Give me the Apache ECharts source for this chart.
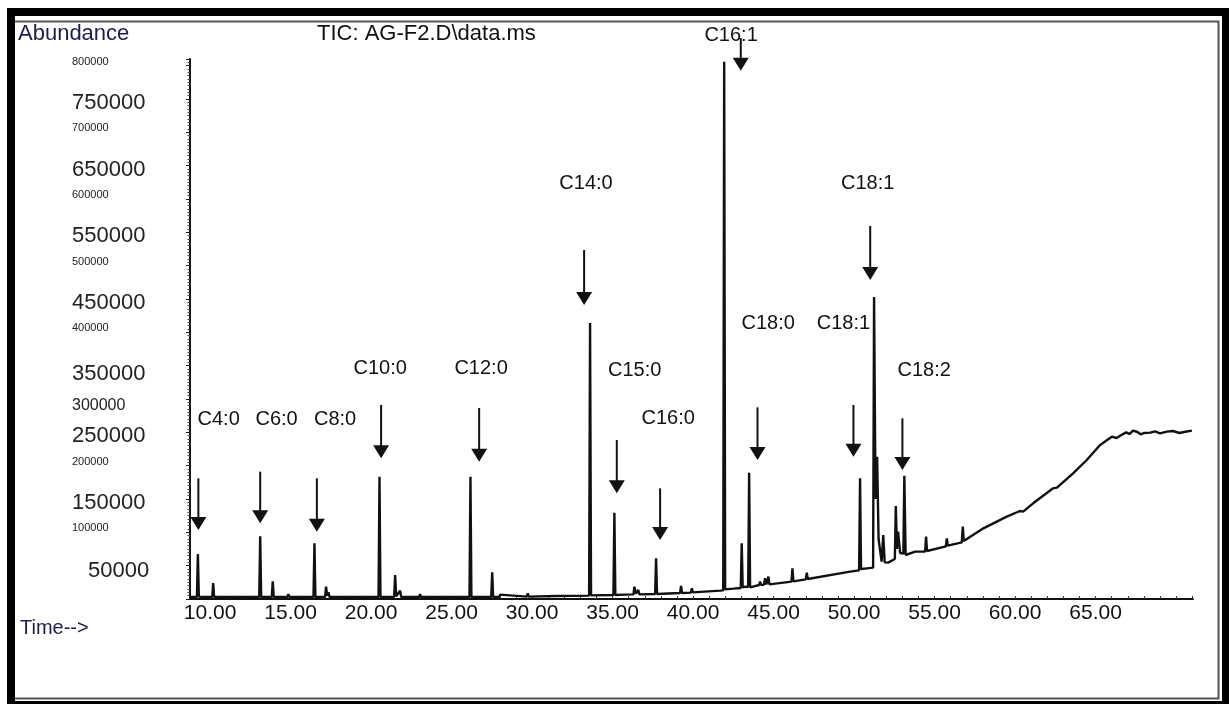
<!DOCTYPE html>
<html>
<head>
<meta charset="utf-8">
<script src="https://cdn.jsdelivr.net/npm/echarts@6/dist/echarts.min.js"></script>
<style>
  html, body { margin: 0; background: #fff; }
  #chart { width: 1229px; height: 704px; }
</style>
</head>
<body>
<div id="chart"></div>
<script>
// TIC trace, [time (min), abundance]
const traceEarly = [
  [8.80, 3000],
  [9.18, 3000], [9.24, 67500], [9.30, 3500],
  [9.70, 3000],
  [10.13, 3000], [10.19, 24000], [10.25, 3000],
  [10.98, 3000], [11.04, 5000], [11.10, 3000],
  [13.05, 3000], [13.11, 94000], [13.17, 3000],
  [13.83, 3000], [13.89, 26500], [13.95, 3000],
  [14.80, 3000], [14.86, 7500], [14.92, 3000],
  [16.42, 3000], [16.48, 83500], [16.54, 3000],
  [17.14, 3000], [17.20, 18500], [17.27, 5000], [17.35, 10000], [17.42, 3000],
  [18.22, 3000], [18.28, 6000], [18.34, 3000],
  [20.46, 3000], [20.52, 183500], [20.58, 3000],
  [21.43, 3000], [21.49, 36000], [21.56, 4000], [21.80, 12500], [21.87, 3000],
  [22.98, 3000], [23.04, 7500], [23.10, 3000],
  [26.11, 3000], [26.17, 183500], [26.23, 3000],
  [27.46, 3000], [27.52, 40000], [27.58, 3000],
  [27.95, 3000], [28.01, 6500], [28.07, 3500],
  [29.67, 3500], [29.73, 8500], [29.79, 3500]
];
const traceMid = [
  [31.50, 4500],
  [33.54, 5000], [33.60, 414000], [33.66, 5500],
  [35.05, 6000], [35.11, 129500], [35.17, 6000],
  [35.74, 6500], [35.78, 9000], [35.83, 6500],
  [36.30, 7000], [36.35, 18500], [36.45, 8000], [36.60, 13500], [36.66, 7000],
  [37.64, 7500], [37.70, 61000], [37.76, 7500],
  [39.19, 9000], [39.25, 19500], [39.31, 9000],
  [39.86, 9500], [39.92, 16000], [39.98, 10000],
  [41.68, 12500],
  [41.87, 13000], [41.93, 806000], [41.99, 14500],
  [42.50, 15500],
  [42.96, 16500], [43.02, 83500], [43.08, 17500], [43.27, 18500],
  [43.42, 18000], [43.48, 189500], [43.54, 17500],
  [44.10, 21000], [44.16, 26000], [44.22, 21000], [44.40, 21500], [44.47, 31000],
  [44.55, 22000], [44.62, 22000], [44.68, 33500], [44.74, 22000],
  [46.11, 26000], [46.17, 46000], [46.23, 26500],
  [47.00, 29500], [47.06, 39500], [47.12, 30000]
];
const traceLate = [
  [49.75, 41000],
  [50.31, 43000], [50.37, 181000], [50.43, 45000],
  [50.80, 46000],
  [51.18, 47000], [51.24, 453000], [51.33, 150000], [51.43, 213500], [51.52, 90000], [51.71, 56000],
  [51.81, 96000], [51.90, 55000], [52.11, 54500],
  [52.53, 60000], [52.59, 139500], [52.66, 75000], [52.73, 101000], [52.86, 69000],
  [53.06, 68000], [53.12, 185000], [53.20, 66000], [53.27, 63500],
  [53.79, 71000],
  [54.41, 71000], [54.47, 93500], [54.53, 72000],
  [55.70, 79000], [55.76, 91000], [55.82, 80000],
  [56.69, 85000], [56.75, 108500], [56.81, 87000],
  [58.03, 106000],
  [59.48, 123500],
  [60.30, 132000], [60.50, 131000],
  [61.12, 143500],
  [62.36, 166000], [62.60, 167000],
  [63.60, 188500],
  [64.45, 208500],
  [65.28, 231000],
  [66.01, 243500],
  [66.30, 241500],
  [66.60, 246000],
  [66.90, 250000], [67.10, 247500],
  [67.33, 252500],
  [67.60, 250500], [67.80, 247000],
  [68.00, 249000], [68.39, 249500],
  [68.70, 251500], [69.00, 248500],
  [69.42, 251000],
  [69.80, 252000], [70.20, 249000],
  [70.50, 250500],
  [70.98, 252500]
];

// peak names, where the name sits and where its arrow runs
const peakNames = ['C4:0', 'C6:0', 'C8:0', 'C10:0', 'C12:0', 'C14:0', 'C15:0', 'C16:0', 'C16:1', 'C18:0', 'C18:1', 'C18:1', 'C18:2'];
const nameTime  = [10.53, 14.13, 17.76, 20.56, 26.83, 33.35, 36.37, 38.45, 42.36, 44.66, 49.34, 50.84, 54.35];
const nameValue = [270000, 270000, 270000, 346500, 346500, 624000, 343500, 271000, 846000, 413500, 414000, 624000, 343500];
const arrowTime = [9.27, 13.11, 16.63, 20.62, 26.71, 33.23, 35.26, 37.95, 42.96, 44.00, 49.96, 51.00, 53.00];
const arrowTop  = [181000, 191000, 181000, 291000, 286500, 523500, 238500, 166000, 841500, 287500, 291000, 559500, 271000];
const arrowTip  = [103500, 113500, 101000, 211000, 206000, 441000, 158500, 88500, 792500, 208500, 213500, 478500, 193500];

// axis ticks
const timeLabels = [10, 15, 20, 25, 30, 35, 40, 45, 50, 55, 60, 65];
const timeTicks = [9, 10, 11, 12, 13, 14, 15, 16, 17, 18, 19, 20, 21, 22, 23, 24, 25, 26, 27, 28, 29, 30,
  31, 32, 33, 34, 35, 36, 37, 38, 39, 40, 41, 42, 43, 44, 45, 46, 47, 48, 49, 50, 51, 52, 53, 54, 55,
  56, 57, 58, 59, 60, 61, 62, 63, 64, 65, 66, 67, 68, 69, 70, 71];
const abundanceLabels = [50000, 100000, 150000, 200000, 250000, 300000, 350000, 400000,
  450000, 500000, 550000, 600000, 650000, 700000, 750000, 800000];

const FONT = '"Liberation Sans", Arial, sans-serif';

function yLabelStyle(v) {
  if (v === 50000) return 'e';
  if (v === 300000) return 'c';
  if (v === 350000) return 'd';
  return (v / 50000) % 2 === 1 ? 'a' : 'b';
}

const chart = echarts.init(document.getElementById('chart'));

const option = {
  animation: false,
  backgroundColor: '#fff',
  grid: { left: 190, right: 36, top: 59, bottom: 105 },
  graphic: [
    // window frame
    { type: 'rect', shape: { x: 7, y: 8, width: 1222, height: 8 }, style: { fill: '#000' } },
    { type: 'rect', shape: { x: 7, y: 8, width: 8, height: 696 }, style: { fill: '#000' } },
    { type: 'rect', shape: { x: 1222, y: 8, width: 7, height: 696 }, style: { fill: '#000' } },
    { type: 'rect', shape: { x: 7, y: 701, width: 1222, height: 3 }, style: { fill: '#000' } },
    { type: 'polyline', shape: { points: [[15, 21.5], [1218.5, 21.5], [1218.5, 698.5], [15, 698.5]] },
      style: { stroke: '#555', lineWidth: 2, fill: null } },
    { type: 'text', left: 18, top: 23, style: { text: 'Abundance', fontSize: 22, fontFamily: FONT, fill: '#1c1c50' } },
    { type: 'text', left: 317, top: 23, style: { text: 'TIC: AG-F2.D\\data.ms', fontSize: 22, fontFamily: FONT, fill: '#111' } },
    { type: 'text', left: 20, top: 618, style: { text: 'Time-->', fontSize: 20, fontFamily: FONT, fill: '#1c1c50' } }
  ],
  xAxis: {
    type: 'value',
    min: 8.75,
    max: 71.05,
    splitLine: { show: false },
    axisLine: { onZero: false, lineStyle: { color: '#111', width: 2 } },
    axisTick: { customValues: timeTicks, inside: true, length: 3, lineStyle: { color: '#333' } },
    axisLabel: {
      customValues: timeLabels,
      formatter: v => v.toFixed(2),
      fontSize: 21,
      fontFamily: FONT,
      color: '#111',
      margin: 4
    }
  },
  yAxis: {
    type: 'value',
    min: 0,
    max: 810000,
    interval: 50000,
    splitLine: { show: false },
    axisLine: { show: true, lineStyle: { color: '#111', width: 2 } },
    axisTick: { show: true, length: 4, lineStyle: { color: '#222' } },
    minorTick: { show: true, splitNumber: 10, length: 2.5, lineStyle: { color: '#444' } },
    axisLabel: {
      customValues: abundanceLabels,
      align: 'left',
      margin: 118,
      formatter: v => '{' + yLabelStyle(v) + '|' + v + '}',
      rich: {
        a: { fontSize: 22, fontFamily: FONT, color: '#222', padding: [8, 0, 0, 0] },
        b: { fontSize: 11, fontFamily: FONT, color: '#222', padding: [0, 0, 8, 0] },
        c: { fontSize: 16, fontFamily: FONT, color: '#222', padding: [14, 0, 0, 0] },
        d: { fontSize: 22, fontFamily: FONT, color: '#222', padding: [16, 0, 0, 0] },
        e: { fontSize: 22, fontFamily: FONT, color: '#222', padding: [10, 0, 0, 16] }
      }
    }
  },
  series: [
    {
      name: 'TIC',
      type: 'line',
      data: traceEarly.concat(traceMid, traceLate),
      showSymbol: false,
      lineStyle: { color: '#111', width: 2.4 },
      z: 3
    },
    {
      // arrows pointing at the peaks
      type: 'custom',
      coordinateSystem: 'cartesian2d',
      clip: false,
      encode: { x: 0, y: [1, 2] },
      data: arrowTime.map((t, i) => [t, arrowTop[i], arrowTip[i]]),
      renderItem: (params, api) => {
        const top = api.coord([api.value(0), api.value(1)]);
        const tip = api.coord([api.value(0), api.value(2)]);
        const headH = 13, headW = 8;
        return {
          type: 'group',
          children: [
            { type: 'line', shape: { x1: top[0], y1: top[1], x2: tip[0], y2: tip[1] - headH + 1 },
              style: { stroke: '#111', lineWidth: 2 } },
            { type: 'polygon', shape: { points: [[tip[0] - headW, tip[1] - headH], [tip[0] + headW, tip[1] - headH], [tip[0], tip[1]]] },
              style: { fill: '#111' } }
          ]
        };
      },
      z: 4
    },
    {
      // peak names
      type: 'custom',
      coordinateSystem: 'cartesian2d',
      clip: false,
      data: nameTime.map((t, i) => [t, nameValue[i]]),
      renderItem: (params, api) => {
        const p = api.coord([api.value(0), api.value(1)]);
        return {
          type: 'text',
          x: p[0],
          y: p[1],
          style: {
            text: peakNames[params.dataIndex],
            fontSize: 20,
            fontFamily: FONT,
            fill: '#111',
            align: 'center',
            verticalAlign: 'middle'
          }
        };
      },
      z: 5
    }
  ]
};

chart.setOption(option);
</script>
</body>
</html>
